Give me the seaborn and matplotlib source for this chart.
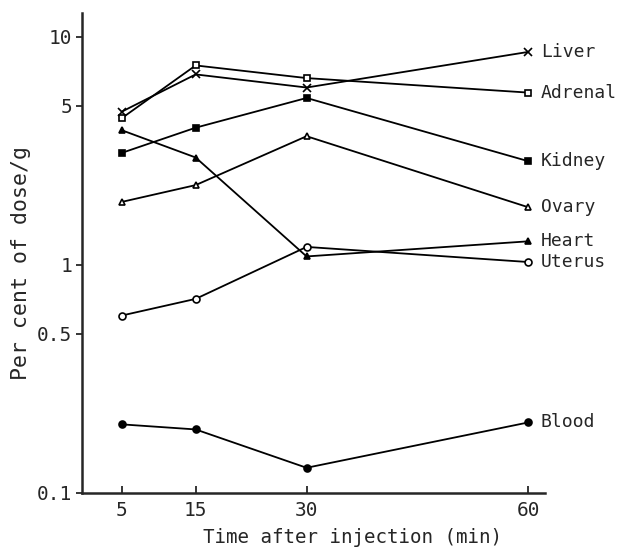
import pandas as pd
import numpy as np
import matplotlib
matplotlib.use("Agg")
import matplotlib.pyplot as plt
import seaborn as sns

times = [5, 15, 30, 60]
organs = ["Liver", "Adrenal", "Kidney", "Ovary", "Heart", "Uterus", "Blood"]
liver = [4.7, 6.85, 6.0, 8.6]
adrenal = [4.4, 7.5, 6.6, 5.7]
kidney = [3.1, 4.0, 5.4, 2.85]
ovary = [1.89, 2.24, 3.67, 1.79]
heart = [3.9, 2.96, 1.09, 1.27]
uterus = [0.6, 0.71, 1.2, 1.03]
blood = [0.2, 0.19, 0.129, 0.204]

values = [liver, adrenal, kidney, ovary, heart, uterus, blood]
markers = ["x", "s", "s", "^", "^", "o", "o"]
filled = [True, False, True, False, True, False, True]

df = pd.DataFrame({
    "time": times * len(organs),
    "organ": np.repeat(organs, len(times)),
    "pct": np.concatenate(values),
})

sns.set_style("ticks")
plt.rcParams["font.family"] = ["DejaVu Sans Mono", "DejaVu Sans"]

fig = plt.figure(figsize=(6.24, 5.53), dpi=100)
ax = fig.add_axes([0.131, 0.1085, 0.742, 0.8675])

for organ, m, f in zip(organs, markers, filled):
    sub = df[df["organ"] == organ]
    sns.lineplot(data=sub, x="time", y="pct", ax=ax, color="black", lw=1.3,
                 marker=m, markersize=5 if m != "x" else 6,
                 markerfacecolor="black" if f else "white",
                 markeredgecolor="black", markeredgewidth=1.2)
    last = sub.iloc[-1]
    ax.annotate(organ, (last["time"], last["pct"]), xytext=(9, 0),
                textcoords="offset points", va="center", ha="left",
                fontsize=13, annotation_clip=False)

ax.set_yscale("log")
ax.set_ylim(0.1, 12.7)
ax.set_xlim(-0.4, 62.2)
ax.set_yticks([0.1, 0.5, 1, 5, 10])
ax.set_yticklabels(["0.1", "0.5", "1", "5", "10"])
ax.yaxis.set_minor_locator(matplotlib.ticker.NullLocator())
ax.set_xticks(times)
ax.tick_params(axis="x", direction="in", length=5, width=1.3, labelsize=14, pad=6)
ax.tick_params(axis="y", direction="out", length=4, width=1.3, labelsize=14, pad=3)
for s in ["left", "bottom"]:
    ax.spines[s].set_linewidth(1.8)
sns.despine(ax=ax)
ax.set_xlabel("Time after injection (min)", fontsize=13.8)
ax.set_ylabel("Per cent of dose/g", fontsize=15.5, va="center")
ax.xaxis.set_label_coords(0.584, -0.092)
ax.xaxis.label.set_va("center")
ax.yaxis.set_label_coords(-0.132, 0.48)

fig.savefig("out.png", dpi=100)
